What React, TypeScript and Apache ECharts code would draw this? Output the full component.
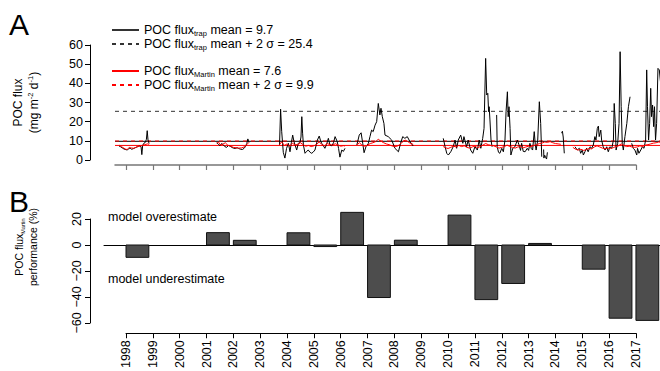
import React, { useEffect, useRef } from 'react';
import * as echarts from 'echarts';

const FONT = "'Liberation Sans', Arial, Helvetica, sans-serif";

// ---------------- data ----------------
const years = [1998, 1999, 2000, 2001, 2002, 2003, 2004, 2005, 2006, 2007, 2008, 2009, 2010, 2011, 2012, 2013, 2014, 2015, 2016, 2017];
const performance: (number | null)[] = [-9.5, null, null, 9.5, 3.6, null, 9.4, -1.2, 25.1, -40.4, 3.7, null, 23.0, -42.0, -29.6, 1.2, null, -18.6, -56.3, -58.0];

const trapMean = 9.7;
const trapUpper = 25.4;
const martinMean = 7.6;
const martinUpper = 9.9;

const fluxTicks = { min: 0, max: 60, step: 10 };
const perfTicks = { min: -60, max: 20, step: 20 };

// POC flux (trap), [decimal year, mg m-2 d-1]; null = gap
const trapFlux: [number, number | null][] = [
  [1997.74, 7.3], [1997.8, 6.9], [1997.87, 6.2], [1997.94, 5.6], [1998.0, 5.4], [1998.05, 5.2], [1998.1, 5.9], [1998.15, 6.3], [1998.2, 5.6], [1998.27, 5.9], [1998.34, 6.4], [1998.42, 6.9], [1998.5, 7.3], [1998.56, 7.0], [1998.59, 2.8], [1998.62, 7.6], [1998.67, 8.8], [1998.72, 9.2], [1998.76, 10.8], [1998.79, 15.3], [1998.82, 10.5], [1998.86, 8.6], [1998.9, null],
  [2001.38, 9.0], [2001.44, 8.3], [2001.5, 7.4], [2001.56, 8.6], [2001.62, 8.0], [2001.68, 7.0], [2001.75, 6.6], [2001.82, 7.6], [2001.88, 7.2], [2001.94, 6.6], [2002.0, 6.2], [2002.07, 6.0], [2002.14, 6.4], [2002.2, 6.0], [2002.27, 5.6], [2002.34, 5.5], [2002.4, 6.1], [2002.45, 7.0], [2002.5, 8.6], [2002.54, 11.0], [2002.58, 9.2], [2002.62, null],
  [2003.72, 7.8], [2003.76, 26.5], [2003.8, 15.0], [2003.86, 4.0], [2003.92, 1.0], [2003.98, 6.0], [2004.05, 8.7], [2004.11, 4.3], [2004.16, 9.0], [2004.21, 13.0], [2004.26, 9.5], [2004.3, 7.8], [2004.36, 5.2], [2004.42, 8.7], [2004.48, 9.0], [2004.52, 12.0], [2004.55, 22.6], [2004.58, 14.0], [2004.61, 7.8], [2004.67, 3.5], [2004.73, 4.5], [2004.79, 5.2], [2004.86, 4.0], [2004.92, 3.5], [2004.98, 4.2], [2005.04, 5.2], [2005.09, 8.0], [2005.13, 10.4], [2005.2, 12.5], [2005.25, 10.0], [2005.29, 8.7], [2005.35, 7.5], [2005.41, 6.1], [2005.47, 8.0], [2005.54, 11.3], [2005.6, 7.8], [2005.67, 7.4], [2005.73, 9.0], [2005.79, 12.2], [2005.87, 9.6], [2005.92, 6.0], [2005.97, 1.5], [2006.04, 5.2], [2006.1, 4.5], [2006.16, 6.1], [2006.2, null],
  [2006.6, 7.8], [2006.69, 13.0], [2006.76, 14.2], [2006.82, 8.7], [2006.87, 3.8], [2006.94, 6.9], [2007.03, 8.7], [2007.09, 12.2], [2007.15, 15.6], [2007.21, 14.8], [2007.28, 18.2], [2007.34, 20.0], [2007.4, 29.5], [2007.46, 23.5], [2007.5, 27.0], [2007.55, 22.6], [2007.61, 19.1], [2007.65, 13.0], [2007.77, 12.2], [2007.9, 10.4], [2008.02, 6.1], [2008.15, 4.3], [2008.23, 8.7], [2008.31, 12.2], [2008.39, 11.3], [2008.48, 12.2], [2008.58, 9.6], [2008.7, 7.3], [2008.74, null],
  [2009.82, 11.3], [2009.89, 6.9], [2009.95, 3.5], [2010.01, 2.6], [2010.1, 4.3], [2010.19, 6.9], [2010.26, 10.4], [2010.32, 6.1], [2010.38, 10.4], [2010.47, 13.0], [2010.55, 8.7], [2010.59, 12.2], [2010.69, 6.9], [2010.75, 10.4], [2010.84, 5.2], [2010.92, 3.5], [2011.0, 6.9], [2011.09, 5.2], [2011.16, 10.4], [2011.22, 6.1], [2011.29, 11.3], [2011.34, 16.5], [2011.4, 53.0], [2011.44, 33.9], [2011.48, 34.8], [2011.51, 25.2], [2011.53, 27.8], [2011.56, 20.9], [2011.6, 10.4], [2011.64, 6.9], [2011.7, null],
  [2011.81, 23.5], [2011.83, 6.9], [2011.88, 4.0], [2011.93, 3.5], [2012.0, 6.1], [2012.06, 4.3], [2012.12, 10.4], [2012.16, 25.2], [2012.21, 35.6], [2012.24, 22.6], [2012.27, 27.8], [2012.31, 16.5], [2012.34, 2.6], [2012.41, 6.1], [2012.49, 6.9], [2012.58, 10.4], [2012.64, 8.0], [2012.7, 5.0], [2012.74, 8.7], [2012.8, 4.5], [2012.87, 4.3], [2012.95, 6.1], [2013.0, 5.0], [2013.05, 8.7], [2013.1, 6.0], [2013.15, 5.2], [2013.21, 14.8], [2013.25, 8.0], [2013.28, 5.2], [2013.34, 10.4], [2013.4, 30.4], [2013.45, 19.1], [2013.49, 1.7], [2013.52, null],
  [2013.56, 5.5], [2013.57, 1.0], [2013.6, 2.5], [2013.63, 1.5], [2013.67, 0.5], [2013.7, 4.0], [2013.72, null],
  [2014.23, 14.0], [2014.26, 15.0], [2014.29, 12.0], [2014.33, 3.5], [2014.36, null],
  [2014.73, 6.9], [2014.81, 5.2], [2014.89, 6.1], [2014.94, 3.5], [2015.0, 5.2], [2015.04, 2.6], [2015.1, 4.3], [2015.16, 6.1], [2015.22, 4.3], [2015.29, 6.9], [2015.35, 6.1], [2015.41, 7.8], [2015.47, 12.2], [2015.51, 10.4], [2015.56, 16.5], [2015.6, 17.7], [2015.63, 12.2], [2015.69, 15.6], [2015.72, 10.4], [2015.78, 6.9], [2015.85, 5.2], [2015.91, 6.9], [2015.97, 4.3], [2016.03, 6.9], [2016.1, 6.1], [2016.16, 10.4], [2016.19, 29.5], [2016.23, 19.1], [2016.26, 5.2], [2016.32, 8.7], [2016.37, 19.1], [2016.41, 56.5], [2016.45, 27.8], [2016.49, 8.7], [2016.53, 5.2], [2016.59, 12.2], [2016.66, 19.1], [2016.72, 27.8], [2016.78, 33.0], [2016.81, null],
  [2016.84, 8.7], [2016.9, 6.1], [2016.96, 5.2], [2017.03, 2.6], [2017.06, 6.1], [2017.11, 3.5], [2017.18, 5.2], [2017.24, 6.9], [2017.3, 6.1], [2017.36, 10.4], [2017.4, 47.0], [2017.43, 27.8], [2017.47, 10.4], [2017.51, 19.1], [2017.55, 37.4], [2017.58, 22.6], [2017.62, 28.7], [2017.66, 17.4], [2017.69, 27.8], [2017.73, 10.4], [2017.77, 19.1], [2017.82, 47.8], [2017.87, 47.0], [2017.92, 40.0],
];

// POC flux (Martin), [decimal year, mg m-2 d-1]; null = gap
const martinFlux: [number, number | null][] = [
  [1997.74, 7.8], [1997.82, 7.0], [1997.9, 6.4], [1998.0, 5.5], [1998.05, 5.6], [1998.12, 6.5], [1998.2, 6.3], [1998.3, 6.1], [1998.4, 6.8], [1998.5, 7.2], [1998.6, 7.6], [1998.7, 8.0], [1998.8, 8.4], [1998.86, 8.2], [1998.9, null],
  [2001.38, 8.8], [2001.45, 9.3], [2001.52, 7.8], [2001.6, 8.2], [2001.7, 9.0], [2001.8, 7.6], [2001.9, 7.2], [2002.0, 6.6], [2002.1, 6.4], [2002.2, 6.2], [2002.3, 6.3], [2002.4, 6.8], [2002.5, 8.0], [2002.58, 9.2], [2002.62, null],
  [2003.72, 8.0], [2003.8, 9.5], [2003.9, 7.6], [2004.0, 8.4], [2004.1, 7.2], [2004.2, 8.8], [2004.3, 7.8], [2004.4, 8.2], [2004.5, 9.0], [2004.6, 8.0], [2004.7, 7.2], [2004.8, 7.6], [2004.9, 7.0], [2005.0, 7.4], [2005.1, 8.2], [2005.2, 9.4], [2005.3, 8.0], [2005.4, 7.5], [2005.5, 8.6], [2005.6, 8.0], [2005.7, 7.8], [2005.8, 8.5], [2005.9, 7.8], [2006.0, 7.2], [2006.1, 7.5], [2006.16, 7.3], [2006.2, null],
  [2006.6, 8.0], [2006.7, 9.0], [2006.8, 7.6], [2006.9, 7.2], [2007.0, 7.8], [2007.1, 8.6], [2007.2, 9.0], [2007.3, 9.6], [2007.4, 10.8], [2007.5, 9.8], [2007.6, 9.0], [2007.7, 8.4], [2007.8, 8.0], [2007.9, 7.4], [2008.0, 7.0], [2008.1, 7.2], [2008.2, 8.0], [2008.3, 9.4], [2008.4, 10.4], [2008.5, 9.6], [2008.6, 8.6], [2008.7, 8.2], [2008.74, null],
  [2009.82, 7.0], [2009.9, 6.4], [2010.0, 6.0], [2010.1, 6.6], [2010.2, 7.2], [2010.3, 6.8], [2010.4, 7.6], [2010.5, 7.0], [2010.6, 7.4], [2010.7, 6.6], [2010.8, 6.2], [2010.9, 6.8], [2011.0, 7.2], [2011.1, 6.4], [2011.2, 7.0], [2011.3, 7.8], [2011.4, 8.6], [2011.5, 8.0], [2011.6, 7.6], [2011.7, 7.4], [2011.8, 6.8], [2011.9, 6.2], [2012.0, 6.6], [2012.1, 7.0], [2012.2, 7.8], [2012.3, 7.0], [2012.4, 6.6], [2012.5, 6.2], [2012.6, 6.8], [2012.7, 7.0], [2012.8, 6.4], [2012.9, 6.8], [2013.0, 7.2], [2013.1, 7.0], [2013.2, 7.6], [2013.3, 8.0], [2013.4, 8.6], [2013.5, 8.8], [2013.6, 9.4], [2013.7, 9.2], [2013.8, 9.6], [2013.9, 9.0], [2014.0, 8.6], [2014.1, 8.4], [2014.2, 8.2], [2014.25, null],
  [2014.65, 6.6], [2014.75, 5.6], [2014.85, 5.2], [2014.95, 5.6], [2015.05, 5.0], [2015.15, 5.4], [2015.25, 6.0], [2015.35, 5.8], [2015.45, 6.8], [2015.55, 7.4], [2015.65, 6.8], [2015.75, 6.2], [2015.85, 5.8], [2015.95, 6.2], [2016.05, 6.0], [2016.15, 6.4], [2016.25, 7.0], [2016.35, 7.4], [2016.45, 8.4], [2016.55, 7.6], [2016.65, 7.0], [2016.75, 7.2], [2016.85, 6.8], [2016.95, 6.6], [2017.05, 6.8], [2017.15, 7.4], [2017.25, 7.0], [2017.35, 7.8], [2017.45, 8.0], [2017.55, 8.4], [2017.65, 8.8], [2017.75, 9.0], [2017.85, 9.4], [2017.92, 9.2],
];

// ---------------- layout ----------------
const TOP_X_MIN = 1997.59;
const X_MAX = 2017.896;
const BAR_X_MIN = 1997.18;
const BAR_SPAN = 0.85; // fraction of a year covered by a bar

const trapMeanName = `POC flux trap mean = ${trapMean}`;
const trapUpperName = `POC flux trap mean + 2 σ = ${trapUpper}`;
const martinMeanName = `POC flux Martin mean = ${martinMean}`;
const martinUpperName = `POC flux Martin mean + 2 σ = ${martinUpper}`;

const legendRich: Record<string, string> = {
  [trapMeanName]: `{n|POC flux}{s|trap}{n| mean = ${trapMean}}`,
  [trapUpperName]: `{n|POC flux}{s|trap}{n| mean + 2 σ = ${trapUpper}}`,
  [martinMeanName]: `{n|POC flux}{s|Martin}{n| mean = ${martinMean}}`,
  [martinUpperName]: `{n|POC flux}{s|Martin}{n| mean + 2 σ = ${martinUpper}}`,
};

const FS = 12.5;
const rich = {
  n: { fontSize: FS, lineHeight: 15, fontFamily: FONT, color: '#000' },
  s: { fontSize: 7.5, lineHeight: 8, verticalAlign: 'bottom', fontFamily: FONT, color: '#000' },
};

const toSeriesData = (arr: [number, number | null][]) => arr.map(([t, v]) => [t, v === null ? '-' : v]);

function refLine(name: string, value: number, color: string, type: any, width: number) {
  return {
    name,
    type: 'line',
    xAxisIndex: 0,
    yAxisIndex: 0,
    data: [[TOP_X_MIN, value], [X_MAX, value]],
    symbol: 'none',
    color,
    lineStyle: { color, type, width },
    silent: true,
    z: 2,
  };
}

function legendBlock(names: string[], top: number) {
  return {
    data: names,
    orient: 'vertical',
    left: 111,
    top,
    padding: 0,
    itemGap: 0,
    itemWidth: 27,
    itemHeight: 14,
    selectedMode: false,
    itemStyle: { opacity: 0 },
    formatter: (name: string) => legendRich[name] || name,
    textStyle: { fontFamily: FONT, fontSize: FS, color: '#000', rich },
  };
}

function buildOption(): any {
  const barData = years
    .map((y, i) => [y, performance[i]])
    .filter((d) => d[1] !== null);

  const axisLabelStyle = { color: '#000', fontFamily: FONT, fontSize: FS };

  return {
    animation: false,
    backgroundColor: '#fff',
    grid: [
      { left: 115, right: 0, top: 45, height: 115 },
      { left: 115, right: 24, top: 164, height: 1 },
      { left: 104, right: 0, top: 219, height: 104 },
      { left: 126, right: 24, top: 333, height: 1 },
    ],
    xAxis: [
      { gridIndex: 0, type: 'value', min: TOP_X_MIN, max: X_MAX, show: false },
      {
        gridIndex: 1, type: 'value', min: TOP_X_MIN, max: years[years.length - 1],
        axisLine: { show: true, onZero: false, lineStyle: { color: '#777', width: 1.5 } },
        axisTick: { show: true, length: 5, customValues: years, lineStyle: { color: '#777', width: 1.2 } },
        axisLabel: { show: false },
        splitLine: { show: false },
      },
      {
        gridIndex: 2, type: 'value', min: BAR_X_MIN, max: X_MAX,
        axisLine: { show: true, onZero: true, lineStyle: { color: '#000', width: 1 } },
        axisTick: { show: false },
        axisLabel: { show: false },
        splitLine: { show: false },
      },
      {
        gridIndex: 3, type: 'value', min: years[0], max: years[years.length - 1], interval: 1,
        axisLine: { show: true, onZero: false, lineStyle: { color: '#000', width: 1 } },
        axisTick: { show: true, length: 5, lineStyle: { color: '#000' } },
        axisLabel: { ...axisLabelStyle, rotate: 90, margin: 7, formatter: (v: number) => String(v) },
        splitLine: { show: false },
      },
    ],
    yAxis: [
      {
        gridIndex: 0, type: 'value', min: fluxTicks.min, max: fluxTicks.max, interval: fluxTicks.step, offset: 25,
        axisLine: { show: true, lineStyle: { color: '#000', width: 1 } },
        axisTick: { show: true, length: 5, lineStyle: { color: '#000' } },
        axisLabel: { ...axisLabelStyle, margin: 7 },
        splitLine: { show: false },
        name: '{n|POC flux}\n{n|(mg m}{p|-2}{n| d}{p|-1}{n|)}',
        nameLocation: 'middle',
        nameRotate: 90,
        nameGap: 48,
        nameTextStyle: {
          rich: {
            n: { fontSize: 12, lineHeight: 16, fontFamily: FONT, color: '#000' },
            p: { fontSize: 7.5, lineHeight: 8, verticalAlign: 'top', fontFamily: FONT, color: '#000' },
          },
        },
      },
      { gridIndex: 1, type: 'value', min: 0, max: 1, show: false },
      {
        gridIndex: 2, type: 'value', min: perfTicks.min, max: perfTicks.max, interval: perfTicks.step, offset: 14,
        axisLine: { show: true, onZero: false, lineStyle: { color: '#000', width: 1 } },
        axisTick: { show: true, length: 5, lineStyle: { color: '#000' } },
        axisLabel: { ...axisLabelStyle, rotate: 90, margin: 7, formatter: (v: number) => String(v).replace('-', '−') },
        splitLine: { show: false },
        name: '{n|POC flux}{s|Martin}\n{n|performance (%)}',
        nameLocation: 'middle',
        nameRotate: 90,
        nameGap: 50,
        nameTextStyle: {
          padding: [0, 0, 0, 48],
          rich: {
            n: { fontSize: 10.5, lineHeight: 14, fontFamily: FONT, color: '#000' },
            s: { fontSize: 5.5, lineHeight: 6, verticalAlign: 'bottom', fontFamily: FONT, color: '#000' },
          },
        },
      },
      { gridIndex: 3, type: 'value', min: 0, max: 1, show: false },
    ],
    legend: [
      legendBlock([trapMeanName, trapUpperName], 23.5),
      legendBlock([martinMeanName, martinUpperName], 64.5),
    ],
    series: [
      refLine(trapUpperName, trapUpper, '#333', [4, 4], 1),
      refLine(trapMeanName, trapMean, '#333', 'solid', 1.2),
      refLine(martinMeanName, martinMean, '#ff0000', 'solid', 1),
      refLine(martinUpperName, martinUpper, '#ff0000', [4, 4], 1),
      {
        name: 'POC flux trap',
        type: 'line',
        xAxisIndex: 0,
        yAxisIndex: 0,
        data: toSeriesData(trapFlux),
        symbol: 'none',
        connectNulls: false,
        color: '#000',
        lineStyle: { color: '#000', width: 1 },
        silent: true,
        z: 3,
      },
      {
        name: 'POC flux Martin',
        type: 'line',
        xAxisIndex: 0,
        yAxisIndex: 0,
        data: toSeriesData(martinFlux),
        symbol: 'none',
        connectNulls: false,
        color: '#ff0000',
        lineStyle: { color: '#ff0000', width: 1 },
        silent: true,
        z: 4,
      },
      {
        name: 'performance',
        type: 'custom',
        xAxisIndex: 2,
        yAxisIndex: 2,
        data: barData,
        encode: { x: 0, y: 1 },
        clip: false,
        silent: true,
        z: 3,
        renderItem: (params: any, api: any) => {
          const yr = api.value(0);
          const v = api.value(1);
          const p0 = api.coord([yr, 0]);
          const p1 = api.coord([yr + BAR_SPAN, v]);
          return {
            type: 'rect',
            shape: { x: p0[0], y: Math.min(p0[1], p1[1]), width: p1[0] - p0[0], height: Math.abs(p1[1] - p0[1]) },
            style: { fill: '#4d4d4d', stroke: '#111', lineWidth: 1 },
          };
        },
      },
    ],
    graphic: [
      { type: 'text', x: 9, y: 24, style: { text: 'A', font: `30px ${FONT}`, fill: '#000', verticalAlign: 'middle', textVerticalAlign: 'middle' } },
      { type: 'text', x: 9, y: 201, style: { text: 'B', font: `30px ${FONT}`, fill: '#000', verticalAlign: 'middle', textVerticalAlign: 'middle' } },
      { type: 'text', x: 108, y: 217, style: { text: 'model overestimate', font: `${FS}px ${FONT}`, fill: '#000', verticalAlign: 'middle', textVerticalAlign: 'middle' } },
      { type: 'text', x: 108, y: 279, style: { text: 'model underestimate', font: `${FS}px ${FONT}`, fill: '#000', verticalAlign: 'middle', textVerticalAlign: 'middle' } },
    ],
  };
}

export default function App() {
  const ref = useRef<HTMLDivElement>(null);
  useEffect(() => {
    document.body.style.margin = '0';
    const chart = echarts.init(ref.current as HTMLDivElement, null, { renderer: 'svg', width: 660, height: 371 });
    chart.setOption(buildOption());
    return () => chart.dispose();
  }, []);
  return <div ref={ref} style={{ position: 'absolute', left: 0, top: 0, width: 660, height: 371 }} />;
}
